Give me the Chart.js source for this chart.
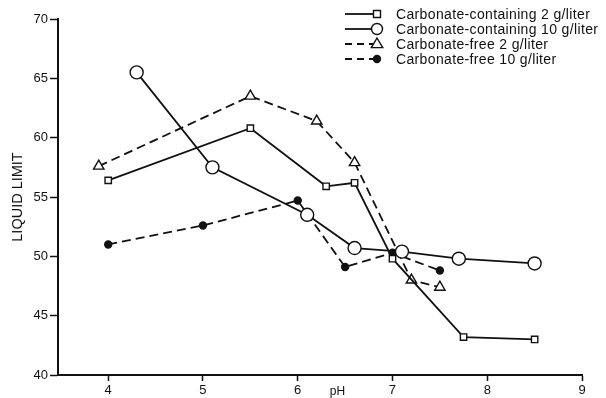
<!DOCTYPE html>
<html>
<head>
<meta charset="utf-8">
<script src="https://cdn.jsdelivr.net/npm/chart.js@4.4.1/dist/chart.umd.min.js"></script>
<style>
html,body{margin:0;padding:0;background:#fff;}
#wrap{width:606px;height:398px;position:relative;}
</style>
</head>
<body>
<div id="wrap"><canvas id="liquidChart"></canvas></div>
<script>
// values
const seriesNames=[
"Carbonate-containing 2 g/liter",
"Carbonate-containing 10 g/liter",
"Carbonate-free 2 g/liter",
"Carbonate-free 10 g/liter"
];
const cc2X=[4.0,5.5,6.3,6.6,7.0,7.75,8.5];
const cc2Y=[56.4,60.8,55.9,56.2,49.8,43.2,43.0];
const cc10X=[4.3,5.1,6.1,6.6,7.1,7.7,8.5];
const cc10Y=[65.5,57.5,53.5,50.7,50.4,49.8,49.4];
const cf2X=[3.9,5.5,6.2,6.6,7.2,7.5];
const cf2Y=[57.6,63.5,61.4,57.9,48.0,47.4];
const cf10X=[4.0,5.0,6.0,6.5,7.0,7.5];
const cf10Y=[51.0,52.6,54.7,49.1,50.3,48.8];
const xTicks=[4,5,6,7,8,9];
const yTicks=[40,45,50,55,60,65,70];

const INK="#111";
const FONT="'Liberation Sans', Arial, sans-serif";

function pts(xs,ys){
return xs.map((x,i)=>({x:x,y:ys[i]}));
}

function makeSet(i,xs,ys,style,radius,dashed,filled){
return {
label:seriesNames[i],
data:pts(xs,ys),
showLine:true,
borderColor:INK,
borderWidth:1.8,
borderDash:dashed?[9,5]:[],
pointStyle:style,
pointRadius:radius,
pointHoverRadius:radius,
pointBorderWidth:1.4,
pointBorderColor:INK,
pointBackgroundColor:filled?INK:"#fff",
clip:false
};
}

// legend with line + marker, and the pH label
const extras={
id:"extras",
afterDraw(chart){
const ctx=chart.ctx;
const rows=[14,29,44,59];
const x0=345,x1=377,tx=396;
ctx.save();
chart.data.datasets.forEach((ds,i)=>{
const y=rows[i];
ctx.strokeStyle=INK;
ctx.lineWidth=1.8;
ctx.setLineDash(ds.borderDash.length?[7,5]:[]);
ctx.beginPath();
ctx.moveTo(x0,y);
ctx.lineTo(x1-4,y);
ctx.stroke();
ctx.setLineDash([]);
ctx.lineWidth=1.4;
ctx.fillStyle=ds.pointBackgroundColor;
const r=ds.pointStyle==="circle"&&ds.pointRadius>4?5.5:ds.pointRadius;
ctx.beginPath();
if(ds.pointStyle==="rect"){
ctx.rect(x1-r+1,y-r+1,2*r-2,2*r-2);
}else if(ds.pointStyle==="triangle"){
ctx.moveTo(x1,y-r);
ctx.lineTo(x1+r*0.95,y+r*0.6);
ctx.lineTo(x1-r*0.95,y+r*0.6);
ctx.closePath();
}else{
ctx.arc(x1,y,r,0,Math.PI*2);
}
ctx.fill();
ctx.stroke();
ctx.fillStyle=INK;
ctx.font="14px "+FONT;
ctx.letterSpacing="0.35px";
ctx.textBaseline="middle";
ctx.textAlign="left";
ctx.fillText(ds.label,tx,y+1);
});
ctx.letterSpacing="0px";
const xs=chart.scales.x;
ctx.font="12px "+FONT;
ctx.textAlign="center";
ctx.textBaseline="middle";
ctx.fillText("pH",xs.getPixelForValue(6.42),392);
ctx.restore();
}
};

new Chart(document.getElementById("liquidChart"),{
type:"scatter",
data:{
datasets:[
makeSet(0,cc2X,cc2Y,"rect",4.5,false,false),
makeSet(1,cc10X,cc10Y,"circle",6.5,false,false),
makeSet(2,cf2X,cf2Y,"triangle",6,true,false),
makeSet(3,cf10X,cf10Y,"circle",3.5,true,true)
]
},
options:{
responsive:true,
maintainAspectRatio:false,
animation:false,
layout:{padding:{top:19,right:24,left:0,bottom:0}},
plugins:{
legend:{display:false},
tooltip:{enabled:false}
},
scales:{
x:{
type:"linear",
min:3.47,
max:9,
afterBuildTicks(s){s.ticks=xTicks.map(v=>({value:v}));},
afterFit(s){s.height=23;},
border:{display:true,color:INK,width:2},
grid:{drawOnChartArea:false,drawTicks:true,tickLength:6,tickColor:INK,tickWidth:1.5},
ticks:{color:INK,font:{family:FONT,size:13},padding:2,maxRotation:0}
},
y:{
type:"linear",
min:40,
max:70,
afterBuildTicks(s){s.ticks=yTicks.map(v=>({value:v}));},
afterFit(s){s.width=58;},
border:{display:true,color:INK,width:2},
grid:{drawOnChartArea:false,drawTicks:true,tickLength:8,tickColor:INK,tickWidth:1.5},
ticks:{color:INK,font:{family:FONT,size:13},padding:2},
title:{display:true,text:"LIQUID LIMIT",color:INK,font:{family:FONT,size:14.5},padding:{top:9,bottom:0}}
}
}
},
plugins:[extras]
});
</script>
</body>
</html>
